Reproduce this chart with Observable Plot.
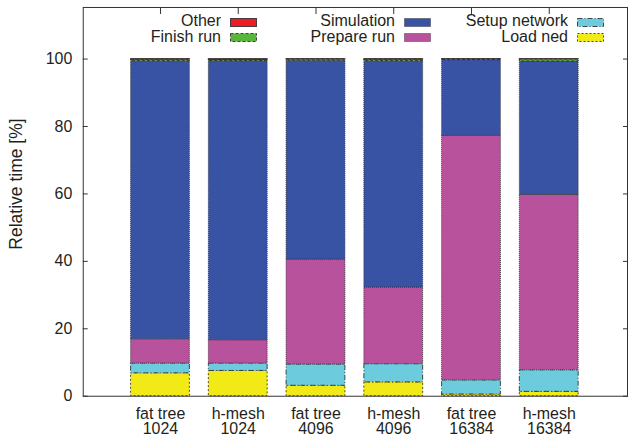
<!DOCTYPE html>
<html>
<head>
<meta charset="utf-8">
<script src="https://cdn.jsdelivr.net/npm/d3@7"></script>
<script src="https://cdn.jsdelivr.net/npm/@observablehq/plot@0.6"></script>
<style>
  html, body { margin: 0; padding: 0; background: #fff; overflow: hidden; }
  #wrap { position: relative; width: 628px; height: 439px; overflow: hidden;
          font-family: "Liberation Sans", Arial, Helvetica, sans-serif; color: #231f20; }
  #wrap svg.plot { position: absolute; left: 0; top: 0; }
  .leg-text { position: absolute; font-size: 16px; line-height: 16px; white-space: nowrap; text-align: right; }
  .leg-sw { position: absolute; }
  .ylabel { position: absolute; font-size: 17.5px; white-space: nowrap;
            transform: translate(-50%, -50%) rotate(-90deg); }
</style>
</head>
<body>
<div id="wrap"></div>
<script>
// Runs: topology and node count
const topologies = ["fat tree", "h-mesh", "fat tree", "h-mesh", "fat tree", "h-mesh"];
const nodeCounts = ["1024", "1024", "4096", "4096", "16384", "16384"];

// Phases, stacked bottom to top
const phases = ["Load ned", "Setup network", "Prepare run", "Simulation", "Finish run", "Other"];

// Share of total run time per phase [%]
const loadNed      = [6.8, 7.5, 3.1, 4.1, 0.5, 1.3];
const setupNetwork = [2.9, 2.2, 6.3, 5.4, 4.2, 6.4];
const prepareRun   = [7.2, 6.9, 31.1, 22.7, 72.5, 52.0];
const simulation   = [82.5, 82.8, 59.0, 67.2, 22.5, 39.6];
const finishRun    = [0.4, 0.3, 0.4, 0.4, 0.2, 0.6];
const other        = [0.2, 0.3, 0.1, 0.2, 0.1, 0.1];

const yTicks = [0, 20, 40, 60, 80, 100];

const phaseValues = {
  "Load ned": loadNed,
  "Setup network": setupNetwork,
  "Prepare run": prepareRun,
  "Simulation": simulation,
  "Finish run": finishRun,
  "Other": other
};

const phaseColors = {
  "Load ned": "#f2ea17",
  "Setup network": "#6ccbdc",
  "Prepare run": "#b9529c",
  "Simulation": "#3953a4",
  "Finish run": "#5bb43c",
  "Other": "#ec1c24"
};

// gnuplot-like border dash pattern per phase
const phaseDashes = {
  "Load ned": "2,2",
  "Setup network": "5,2,1,2",
  "Prepare run": "1,1",
  "Simulation": "1,1",
  "Finish run": "3,2",
  "Other": null
};

const runIds = topologies.map((t, i) => `${t}\n${nodeCounts[i]}`);

// Cumulative stacking of the phases for each run
const rows = [];
runIds.forEach((id, i) => {
  let base = 0;
  for (const p of phases) {
    const v = phaseValues[p][i];
    rows.push({run: id, phase: p, y1: base, y2: base + v, value: v});
    base += v;
  }
});

const barMarks = phases.map(p =>
  Plot.barY(rows.filter(r => r.phase === p), {
    x: "run",
    y1: "y1",
    y2: "y2",
    fill: phaseColors[p],
    stroke: "#2b2b2b",
    strokeWidth: 1,
    strokeOpacity: 0.85,
    strokeDasharray: phaseDashes[p]
  })
);

const chart = Plot.plot({
  width: 630,
  height: 439,
  marginLeft: 83,
  marginRight: 1,
  marginTop: 7,
  marginBottom: 42,
  style: {fontFamily: '"Liberation Sans", Arial, Helvetica, sans-serif', fontSize: "16px", color: "#231f20", background: "transparent"},
  x: {domain: runIds, paddingInner: 0.24, paddingOuter: 0.62, label: null},
  y: {domain: [0, 115.3], label: null},
  marks: [
    ...barMarks,
    Plot.frame({stroke: "#333", strokeWidth: 1}),
    Plot.axisY({ticks: yTicks, tickSize: -5, tickPadding: 16, fontSize: 16, label: null, stroke: "#333"}),
    Plot.axisY({anchor: "right", ticks: yTicks, tickSize: -5, tickFormat: () => "", label: null, stroke: "#333"}),
    Plot.axisX({anchor: "top", tickSize: -6, tickFormat: () => "", label: null, stroke: "#333"}),
    Plot.axisX({anchor: "bottom", tickSize: 0, tickPadding: 11, fontSize: 16, lineHeight: 1, label: null})
  ]
});

const wrap = document.getElementById("wrap");
wrap.appendChild(chart);

// Axis title
const yl = document.createElement("div");
yl.className = "ylabel";
yl.textContent = "Relative time [%]";
yl.style.left = "16px";
yl.style.top = "184px";
wrap.appendChild(yl);

// Key: three columns, two rows, inside the top of the frame
const legendLayout = [
  ["Other", 0, 0], ["Finish run", 0, 1],
  ["Simulation", 1, 0], ["Prepare run", 1, 1],
  ["Setup network", 2, 0], ["Load ned", 2, 1]
];
const swatchLeft = [230, 404, 577];
const swatchTop = [17.5, 33.3];
const textTop = [13.3, 29.3];
for (const [name, col, row] of legendLayout) {
  const t = document.createElement("div");
  t.className = "leg-text";
  t.textContent = name;
  t.style.right = (628 - (swatchLeft[col] - 9)) + "px";
  t.style.top = textTop[row] + "px";
  wrap.appendChild(t);

  const ns = "http://www.w3.org/2000/svg";
  const sw = document.createElementNS(ns, "svg");
  sw.setAttribute("class", "leg-sw");
  sw.setAttribute("width", 27);
  sw.setAttribute("height", 9);
  sw.style.left = swatchLeft[col] + "px";
  sw.style.top = swatchTop[row] + "px";
  const r = document.createElementNS(ns, "rect");
  r.setAttribute("x", 0.5); r.setAttribute("y", 0.5);
  r.setAttribute("width", 26); r.setAttribute("height", 8);
  r.setAttribute("fill", phaseColors[name]);
  r.setAttribute("stroke", "#2b2b2b");
  r.setAttribute("stroke-opacity", 0.85);
  if (phaseDashes[name]) r.setAttribute("stroke-dasharray", phaseDashes[name]);
  sw.appendChild(r);
  wrap.appendChild(sw);
}
</script>
</body>
</html>
